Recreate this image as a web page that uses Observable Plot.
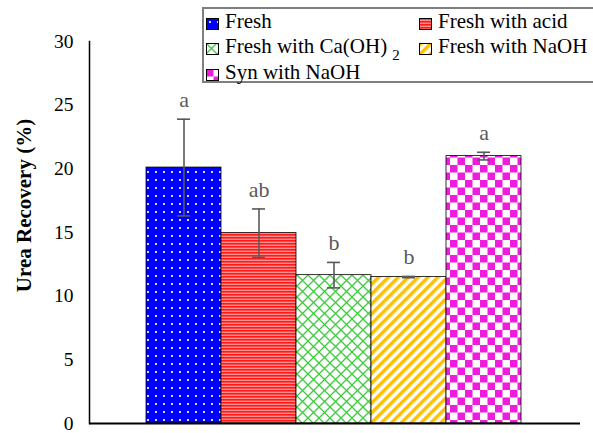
<!DOCTYPE html>
<html><head><meta charset="utf-8">
<script src="https://cdn.jsdelivr.net/npm/d3@7"></script>
<script src="https://cdn.jsdelivr.net/npm/@observablehq/plot@0.6"></script>
<style>
body{margin:0;background:#fff;font-family:"Liberation Serif",Tinos,"Times New Roman",Times,serif;}
#wrap{position:relative;width:593px;height:433px;overflow:hidden;}
#legend{position:absolute;left:202px;top:7px;width:400px;height:76px;border:2px solid #7f7f7f;border-right:none;box-sizing:border-box;background:#fff;font-size:21px;color:#000;}
.item{position:absolute;white-space:nowrap;line-height:24px;}
.item svg{margin-right:6px;vertical-align:-2px;}
.sub{font-size:15px;position:relative;top:7px;margin-left:5px;}
svg text{font-family:"Liberation Serif",Tinos,"Times New Roman",Times,serif;}
</style></head>
<body>
<svg width="0" height="0" style="position:absolute">
 <defs>
  <pattern id="p-fresh" width="8" height="8" patternUnits="userSpaceOnUse">
   <rect width="8" height="8" fill="#0000ff"/>
   <rect x="3" y="3" width="2" height="2" fill="#d8d8ff"/>
  </pattern>
  <pattern id="p-acid" width="3" height="3" patternUnits="userSpaceOnUse">
   <rect width="3" height="3" fill="#ff8f8f"/>
   <rect width="3" height="1.6" fill="#ff1a1a"/>
  </pattern>
  <pattern id="p-ca" width="11" height="11" patternUnits="userSpaceOnUse">
   <rect width="11" height="11" fill="#fff"/>
   <path d="M0,0L11,11M11,0L0,11" stroke="#3ccc3c" stroke-width="1.3"/>
  </pattern>
  <pattern id="p-naoh" width="7" height="7" patternUnits="userSpaceOnUse" patternTransform="rotate(45)">
   <rect width="7" height="7" fill="#fff"/>
   <rect width="3.5" height="7" fill="#ffc000"/>
  </pattern>
  <pattern id="p-syn" width="15" height="15" patternUnits="userSpaceOnUse">
   <rect width="15" height="15" fill="#fff"/>
   <rect width="7.5" height="7.5" fill="#ee1cdc"/>
   <rect x="7.5" y="7.5" width="7.5" height="7.5" fill="#ee1cdc"/>
  </pattern>
 </defs>
</svg>
<div id="wrap">
 <div id="chart"></div>
 <div id="legend"></div>
</div>
<script>
const categories = ["Fresh", "Fresh with acid", "Fresh with Ca(OH)2", "Fresh with NaOH", "Syn with NaOH"];
const values = [20.1, 14.95, 11.65, 11.5, 21.0];
const errors = [3.8, 1.9, 1.0, 0.05, 0.3];
const letters = ["a", "ab", "b", "b", "a"];
const patternIds = ["p-fresh", "p-acid", "p-ca", "p-naoh", "p-syn"];
const yTicks = [0, 5, 10, 15, 20, 25, 30];
const yLabel = "Urea Recovery (%)";

const data = categories.map((c, i) => ({
  cat: c, v: values[i], lo: values[i] - errors[i], hi: values[i] + errors[i],
  letter: letters[i], fill: `url(#${patternIds[i]})`
}));

const FONT = '"Liberation Serif",Tinos,"Times New Roman",Times,serif';
const chart = Plot.plot({
  width: 593, height: 433,
  marginLeft: 89, marginRight: 13, marginTop: 41, marginBottom: 10,
  style: {fontFamily: FONT, fontSize: "19px", color: "#000", background: "#fff"},
  x: {domain: categories, range: [145, 522], padding: 0, axis: null},
  y: {domain: [0, 30], axis: null},
  color: {type: "identity"},
  marks: [
    Plot.barY(data, {x: "cat", y: "v", fill: "fill", stroke: "#000", strokeWidth: 0.8}),
    Plot.ruleX(data, {x: "cat", y1: "lo", y2: "hi", stroke: "#595959", strokeWidth: 1.6}),
    Plot.tickY(data, {x: "cat", y: "lo", stroke: "#595959", strokeWidth: 1.6, insetLeft: 31, insetRight: 31}),
    Plot.tickY(data, {x: "cat", y: "hi", stroke: "#595959", strokeWidth: 1.6, insetLeft: 31, insetRight: 31}),
    Plot.text(data, {x: "cat", y: "hi", text: "letter", dy: -19, fontSize: 22, fill: "#595959"}),
    Plot.axisY({ticks: yTicks, tickSize: 0, tickPadding: 16, label: null, fontSize: 19.5}),
    Plot.frame({anchor: "left", stroke: "#000", strokeWidth: 1.5}),
    Plot.ruleY([0], {stroke: "#000", strokeWidth: 2}),
    Plot.text([yLabel], {frameAnchor: "left", textAnchor: "middle", rotate: -90, dx: -65, dy: -27, fontWeight: "bold", fontSize: 21, fill: "#000"})
  ]
});
document.getElementById("chart").appendChild(chart);

// legend (HTML), swatches reuse the same patterns
const legend = document.getElementById("legend");
const pos = [[2, 0], [215, 0], [2, 25], [215, 25], [2, 51]];
categories.forEach((c, i) => {
  const el = document.createElement("div");
  el.className = "item";
  el.style.left = pos[i][0] + "px";
  el.style.top = pos[i][1] + "px";
  const label = c === "Fresh with Ca(OH)2" ? 'Fresh with Ca(OH)<span class="sub">2</span>' : c;
  el.innerHTML = `<svg width="13" height="12"><rect x="0.5" y="0.5" width="12" height="11" fill="url(#${patternIds[i]})" stroke="#000" stroke-width="1"/></svg><span>${label}</span>`;
  legend.appendChild(el);
});
</script>
</body></html>
